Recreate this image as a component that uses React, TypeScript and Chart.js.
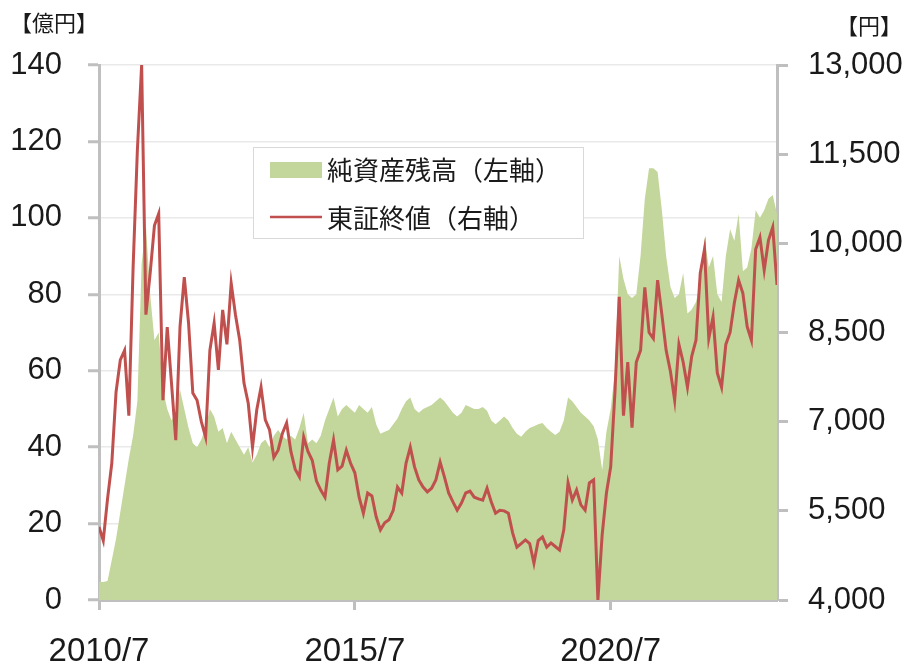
import React, { useEffect, useRef } from 'react';
import { Chart, registerables } from 'chart.js';

Chart.register(...registerables);

// Monthly observations, index 0 = 2010/7
const NET_ASSETS = [
  4.7, 4.7, 5, 10.5, 16, 23, 30, 37, 43, 52,
  88, 98, 80, 68, 70, 55, 50, 47, 49, 55,
  50, 45, 41, 40, 42, 45, 50, 48, 44, 45,
  41, 44, 42, 40, 38, 40, 36, 38, 41, 42,
  40, 43, 44.5, 43, 42, 43, 42, 45, 49, 41,
  42, 41, 43, 47, 50, 53, 48, 50, 51, 50,
  49, 51, 50, 49, 50.5, 46, 43.5, 44, 44.5, 46,
  47.5, 50, 52, 53, 50, 49, 50, 50.5, 51, 52,
  53, 52, 50.5, 49, 48, 49, 51, 50.5, 50, 50,
  50.5, 49.5, 47, 46, 47, 48, 47, 45, 43.5, 42.7,
  44, 45, 45.5, 46, 46.3, 45, 44, 43.2, 44, 47,
  53, 52, 50.5, 49, 48, 47, 45.5, 42, 34, 44,
  50, 60, 90, 84, 80, 79, 80, 90, 105, 113,
  113, 112, 102, 90, 82, 79, 80, 85.6, 75, 76,
  78, 83, 95, 87, 90, 80, 78, 90, 97, 94,
  101, 86, 87, 92, 102, 100, 102, 105, 106, 101,
];

const PRICE = [
  5230, 5000, 5700, 6300, 7500, 8040, 8200, 7100, 9600, 11570,
  13000, 8800, 9500, 10300, 10500, 7360, 8590, 7650, 6690, 8600,
  9430, 8660, 7480, 7360, 7000, 6740, 8200, 8660, 7870, 8880,
  8300, 9330, 8800, 8370, 7650, 7310, 6570, 7200, 7580, 7030,
  6860, 6400, 6520, 6800, 6980, 6500, 6200, 6070, 6740, 6500,
  6350, 6000, 5850, 5730, 6300, 6690, 6190, 6250, 6520, 6300,
  6140, 5730, 5460, 5800, 5750, 5400, 5180, 5300, 5350, 5510,
  5900, 5800, 6300, 6570, 6240, 6020, 5900, 5820, 5880, 6020,
  6320, 6070, 5800, 5650, 5510, 5630, 5800, 5830, 5730, 5700,
  5680, 5880, 5650, 5460, 5510, 5500, 5460, 5130, 4890, 4950,
  5010, 4950, 4620, 5000, 5060, 4890, 4960, 4900, 4840, 5180,
  5970, 5680, 5850, 5600, 5510, 5970, 6020, 4000, 5100, 5800,
  6240, 7500, 9100, 7100, 8000, 6900, 8000, 8200, 9260, 8500,
  8400, 9380, 8800, 8200, 7850, 7360, 8300, 8000, 7580, 8100,
  8370, 9500, 9900, 8400, 8760, 7820, 7580, 8300, 8500, 9000,
  9380, 9160, 8600, 8370, 9900, 10100, 9550, 10050, 10270, 9300,
];

const X_TICK_POS = [0, 60, 120];
const X_TICK_LABELS = ['2010/7', '2015/7', '2020/7'];
const SERIES_NAMES = ['純資産残高（左軸）', '東証終値（右軸）'];
const LEFT_UNIT = '【億円】';
const RIGHT_UNIT = '【円】';

const GREEN = '#c3d69b';
const RED = '#c0504d';
const AXIS = '#bfbfbf';
const GRID = '#e9e9e9';
const TEXT = '#1a1a1a';
const NUM_FONT = '"Liberation Sans", Arial, sans-serif';
const CJK_FONT = '"Noto Sans CJK JP", sans-serif';

const overlay = {
  id: 'overlay',
  afterDraw(chart: any) {
    const ctx = chart.ctx as CanvasRenderingContext2D;
    ctx.save();
    ctx.fillStyle = TEXT;
    ctx.textBaseline = 'middle';
    ctx.font = `22px ${CJK_FONT}`;
    ctx.textAlign = 'left';
    ctx.fillText(LEFT_UNIT, 10, 23);
    ctx.textAlign = 'right';
    ctx.fillText(RIGHT_UNIT, 902, 26);

    // legend
    const bx = 253.5, by = 147.5, bw = 330, bh = 91;
    ctx.fillStyle = '#ffffff';
    ctx.fillRect(bx, by, bw, bh);
    ctx.strokeStyle = '#d9d9d9';
    ctx.lineWidth = 1;
    ctx.strokeRect(bx, by, bw, bh);
    ctx.fillStyle = GREEN;
    ctx.fillRect(270, 162, 52, 16);
    ctx.strokeStyle = RED;
    ctx.lineWidth = 2.5;
    ctx.beginPath();
    ctx.moveTo(270, 217);
    ctx.lineTo(322, 217);
    ctx.stroke();
    ctx.fillStyle = TEXT;
    ctx.font = `26px ${CJK_FONT}`;
    ctx.textAlign = 'left';
    ctx.fillText(SERIES_NAMES[0], 327, 170);
    ctx.fillText(SERIES_NAMES[1], 327, 218);
    ctx.restore();
  },
};

export default function App() {
  const ref = useRef<HTMLCanvasElement>(null);
  useEffect(() => {
    document.body.style.margin = '0';
    const chart = new Chart(ref.current as HTMLCanvasElement, {
      type: 'line',
      data: {
        datasets: [
          {
            label: SERIES_NAMES[1],
            data: PRICE.map((v, i) => ({ x: i, y: v })),
            borderColor: RED,
            borderWidth: 3,
            pointRadius: 0,
            fill: false,
            tension: 0,
            yAxisID: 'y1',
          },
          {
            label: SERIES_NAMES[0],
            data: NET_ASSETS.map((v, i) => ({ x: i, y: v })),
            borderWidth: 0,
            borderColor: GREEN,
            backgroundColor: GREEN,
            pointRadius: 0,
            fill: 'origin',
            tension: 0,
            yAxisID: 'y',
          },
        ],
      },
      options: {
        responsive: false,
        animation: false,
        devicePixelRatio: 1,
        layout: { padding: { top: 65, left: 0, right: 0, bottom: 0 } },
        plugins: { legend: { display: false }, tooltip: { enabled: false } },
        scales: {
          x: {
            type: 'linear',
            min: 0,
            max: 159,
            afterBuildTicks: (s: any) => {
              s.ticks = X_TICK_POS.map((v) => ({ value: v }));
            },
            afterFit: (s: any) => {
              s.height = 65;
            },
            ticks: {
              autoSkip: false,
              maxRotation: 0,
              padding: 22,
              color: TEXT,
              font: { family: NUM_FONT, size: 33 },
              callback: (_v: any, i: number) => X_TICK_LABELS[i],
            },
            grid: { drawOnChartArea: false, tickLength: 10, tickColor: AXIS, tickWidth: 3 },
            border: { color: AXIS, width: 3 },
          },
          y: {
            type: 'linear',
            position: 'left',
            min: 0,
            max: 140,
            afterFit: (s: any) => {
              s.width = 99;
            },
            ticks: {
              stepSize: 20,
              padding: 26,
              color: TEXT,
              font: { family: NUM_FONT, size: 31 },
            },
            grid: { color: GRID, lineWidth: 1.5, tickColor: AXIS, tickLength: 11, tickWidth: 3 },
            border: { color: AXIS, width: 3 },
          },
          y1: {
            type: 'linear',
            position: 'right',
            min: 4000,
            max: 13000,
            afterFit: (s: any) => {
              s.width = 135;
            },
            ticks: {
              stepSize: 1500,
              padding: 20,
              color: TEXT,
              font: { family: NUM_FONT, size: 31 },
              callback: (v: any) => Number(v).toLocaleString('en-US'),
            },
            grid: { drawOnChartArea: false, tickColor: AXIS, tickLength: 11, tickWidth: 3 },
            border: { color: AXIS, width: 3 },
          },
        },
      } as any,
      plugins: [overlay],
    });
    return () => chart.destroy();
  }, []);
  return (
    <div style={{ width: 912, height: 665 }}>
      <canvas ref={ref} width={912} height={665} style={{ display: 'block' }} />
    </div>
  );
}
